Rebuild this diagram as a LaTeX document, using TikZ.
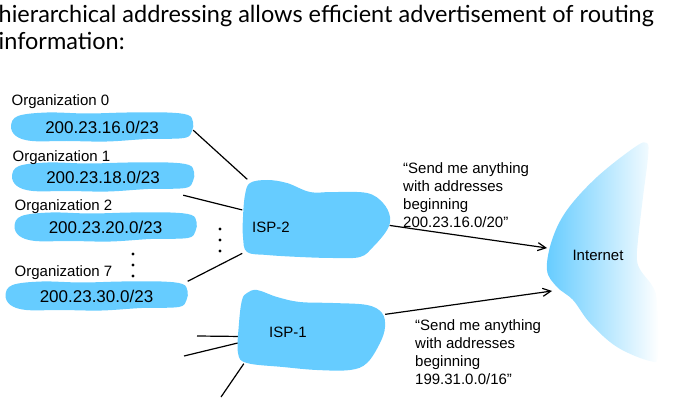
\documentclass[tikz,border=0pt]{standalone}
\usepackage{fontspec}
\setmainfont{Liberation Sans}
\newfontfamily\titlefont{Lato}
\usetikzlibrary{arrows.meta}
\definecolor{netblue}{HTML}{66CCFF}
\pgfdeclarelayer{background}
\pgfsetlayers{background,main}

% brush-stroke cloud behind an organisation address, centred on node #1
\newcommand\orgblob[1]{\fill[netblue,shift={(#1.center)}] plot[smooth cycle,tension=0.6] coordinates {(-84,-11) (-55,-14.5) (-15,-13.5) (25,-14.5) (65,-14.5) (86,-12) (91,-5) (90,4) (82,11) (45,12) (5,14.5) (-35,14) (-70,14) (-86,9) (-91,-1)};}

\begin{document}
\begin{tikzpicture}[x=1pt,y=-1pt,
  titletext/.style={font=\titlefont\fontsize{23.5}{27}\selectfont,align=left,inner sep=0pt},
  orgnet/.style={minimum width=182pt,minimum height=29pt,inner sep=0pt,font=\fontsize{17}{20}\selectfont},
  orglabel/.style={anchor=base west,inner sep=0pt,font=\fontsize{15}{18}\selectfont},
  ispnet/.style={minimum width=147pt,minimum height=79pt,inner sep=0pt},
  netname/.style={inner sep=0pt,font=\fontsize{15}{18}\selectfont},
  advert/.style={anchor=north west,align=left,inner sep=0pt,font=\fontsize{15}{18}\selectfont},
  link/.style={line width=1.2pt},
  adv/.style={line width=1.2pt,-{Straight Barb[length=8pt,width=8pt]}}]
\useasboundingbox (0,0) rectangle (698,406);

\node[titletext,anchor=base west] (title) at (-1.5,50) {hierarchical addressing allows efficient advertisement of routing\\information:};

% organisations
\node[orglabel] (lab0) at (11.5,106) {Organization 0};
\node[orglabel] (lab1) at (12.5,161) {Organization 1};
\node[orglabel] (lab2) at (14.5,211) {Organization 2};
\node[orglabel] (lab7) at (14.5,276) {Organization 7};
\node[orgnet] (org0) at (102,127) {200.23.16.0/23};
\node[orgnet] (org1) at (103,177) {200.23.18.0/23};
\node[orgnet] (org2) at (105.5,227) {200.23.20.0/23};
\node[orgnet] (org7) at (96.5,296) {200.23.30.0/23};
\foreach \y in {254,265,276} \fill (133,\y) circle (1.6pt);
\foreach \y in {229,240,251} \fill (220,\y) circle (1.6pt);

% ISPs
\node[ispnet] (isp2) at (316,219) {};
\node[ispnet] (isp1) at (311.5,330) {};
\node[netname] (isp2name) at (271,227.5) {ISP-2};
\node[netname] (isp1name) at (288,332.5) {ISP-1};
\coordinate (cust1) at (197,336);
\coordinate (cust2) at (184,356);
\coordinate (cust3) at (221,397);

% Internet
\shade[left color=netblue,right color=white] plot[smooth cycle,tension=0.6] coordinates {(647,143) (648,157) (643,197) (638,240) (637,260) (641,271) (653,287) (657,303) (658,355) (650,361) (617,347) (590,323) (573,300) (557,287) (547,270) (552,240) (567,210) (597,177) (635,147)};
\node[netname] (inet) at (598,255) {Internet};
\coordinate (inetin1) at (547,248);
\coordinate (inetin2) at (552,291);

\begin{pgfonlayer}{background}
\draw[link] (org0.-2) -- (isp2.150);
\draw[link] ([xshift=-11pt,yshift=-3.5pt]org1.south east) -- (isp2.173);
\draw[link] (org7.north east) -- (isp2.205);
\draw[link] (cust1) -- (isp1.185);
\draw[link] (cust2) -- (isp1.190);
\draw[link] (cust3) -- ([xshift=6pt,yshift=6pt]isp1.south west);
\orgblob{org0}
\orgblob{org1}
\orgblob{org2}
\orgblob{org7}
\fill[netblue,shift={(isp2.center)}] plot[smooth cycle,tension=0.6] coordinates {(-66,-36) (-49,-39) (-29,-36) (-6,-27) (17,-27) (51,-26) (67,-16) (74,-2) (71,11) (57,28) (44,38) (17,39) (-16,38) (-49,36) (-69,33) (-73,18) (-73,-2) (-71,-24)};
\fill[netblue,shift={(isp1.center)}] plot[smooth cycle,tension=0.6] coordinates {(-64.5,-37) (-54.5,-40) (-34.5,-33) (-11.5,-28) (21.5,-27) (55.5,-25) (70.5,-17) (73.5,-3) (68.5,13) (55.5,33) (38.5,40) (5.5,40) (-28.5,37) (-64.5,33) (-73.5,23) (-72.5,-7) (-69.5,-30)};
\end{pgfonlayer}

\draw[adv] (isp2.-5) -- (inetin1);
\draw[adv] (isp1.12) -- (inetin2);
\node[advert] (adv2) at (403,162.5) {“Send me anything\\with addresses\\beginning\\200.23.16.0/20”};
\node[advert] (adv1) at (415,319.5) {“Send me anything\\with addresses\\beginning\\199.31.0.0/16”};
\end{tikzpicture}
\end{document}
